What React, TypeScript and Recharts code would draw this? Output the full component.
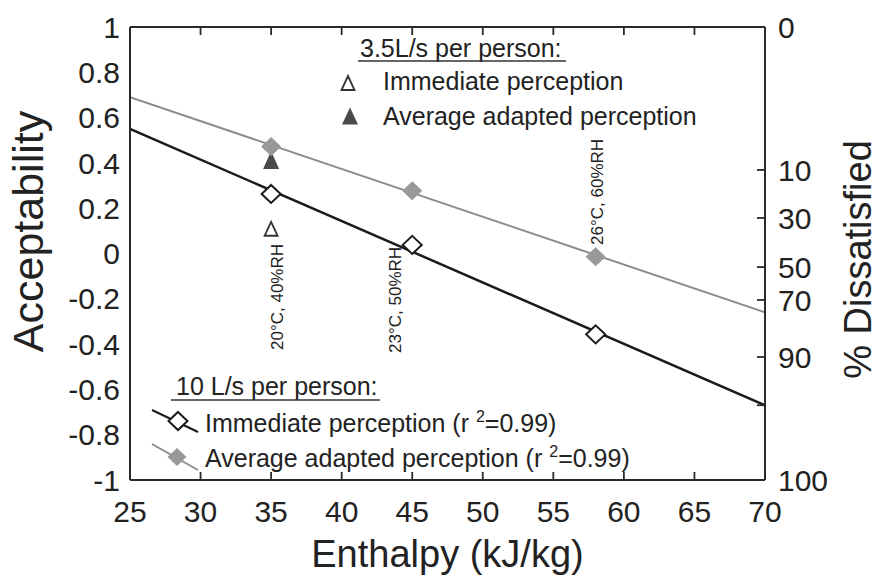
import React from 'react';
import { ComposedChart, Line, Scatter, XAxis, YAxis, Legend, Label } from 'recharts';

const FONT = '"Liberation Sans", Arial, Helvetica, sans-serif';

// axes
const enthalpyTicks = [25, 30, 35, 40, 45, 50, 55, 60, 65, 70];
const acceptTicks = [1, 0.8, 0.6, 0.4, 0.2, 0, -0.2, -0.4, -0.6, -0.8, -1];
// right axis: % dissatisfied labels and where they sit on the acceptability scale
const dissatLabels = ['0', '10', '30', '50', '70', '90', '', '100'];
const dissatPos = [1, 0.369, 0.157, -0.06, -0.205, -0.457, -0.67, -1];

// 10 L/s per person
const pointEnthalpy = [35, 45, 58];
const immediate10 = [0.263, 0.038, -0.357];
const adapted10 = [0.472, 0.277, -0.014];
// regression lines, end points
const fitEnthalpy = [25, 70];
const immediateFit = [0.55, -0.67];
const adaptedFit = [0.69, -0.26];

// 3.5 L/s per person
const enthalpy35 = [35];
const immediate35 = [0.118];
const adapted35 = [0.413];

// condition labels
const condLabels = ['20°C, 40%RH', '23°C, 50%RH', '26°C, 60%RH'];
const condX = [35.45, 43.85, 58.1];
const condY = [-0.192, -0.205, 0.272];

const toPts = (xs: number[], ys: number[]) => xs.map((x, i) => ({ x, y: ys[i] }));

const immFitData = toPts(fitEnthalpy, immediateFit);
const adpFitData = toPts(fitEnthalpy, adaptedFit);
const imm10Data = toPts(pointEnthalpy, immediate10);
const adp10Data = toPts(pointEnthalpy, adapted10);
const imm35Data = toPts(enthalpy35, immediate35);
const adp35Data = toPts(enthalpy35, adapted35);
const condData = condX.map((x, i) => ({ x, y: condY[i], label: condLabels[i] }));

const diamondPath = (cx: number, cy: number) =>
  `M${cx},${cy - 9} L${cx + 9.5},${cy} L${cx},${cy + 9} L${cx - 9.5},${cy} Z`;
const trianglePath = (cx: number, cy: number, w: number, h: number) =>
  `M${cx},${cy - h / 2} L${cx + w / 2},${cy + h / 2} L${cx - w / 2},${cy + h / 2} Z`;

const OpenDiamond = (p: any) => (
  <path d={diamondPath(p.cx, p.cy)} fill="#fff" stroke="#1a1a1a" strokeWidth={2} />
);
const GreyDiamond = (p: any) => <path d={diamondPath(p.cx, p.cy)} fill="#999" stroke="#999" strokeWidth={1} />;
const OpenTriangle = (p: any) => (
  <path d={trianglePath(p.cx, p.cy + 2, 13, 14)} fill="#fff" stroke="#333" strokeWidth={1.8} />
);
const FilledTriangle = (p: any) => <path d={trianglePath(p.cx, p.cy, 16, 18)} fill="#4a4a4a" />;
const CondText = (p: any) => (
  <text
    x={p.cx}
    y={p.cy}
    transform={`rotate(-90 ${p.cx} ${p.cy})`}
    textAnchor="middle"
    dominantBaseline="central"
    fontSize={17}
    fill="#222"
  >
    {p.payload.label}
  </text>
);

const renderLegend = () => (
  <svg width={878} height={577} style={{ position: 'absolute', left: 0, top: 0 }} fontFamily={FONT}>
    <g fontSize={25} fill="#222">
      <text x={360} y={57}>3.5L/s per person:</text>
      <line x1={358} x2={566} y1={61} y2={61} stroke="#333" strokeWidth={1.5} />
      <path d={trianglePath(348, 83, 13, 14)} fill="#fff" stroke="#333" strokeWidth={1.8} />
      <text x={383} y={90}>Immediate perception</text>
      <path d={trianglePath(350, 116, 16, 17)} fill="#4a4a4a" />
      <text x={383} y={125}>Average adapted perception</text>

      <text x={176} y={395}>10 L/s per person:</text>
      <line x1={171} x2={380} y1={400} y2={400} stroke="#333" strokeWidth={1.5} />
      <line x1={152} y1={410} x2={198} y2={432} stroke="#1a1a1a" strokeWidth={2} />
      <path d={diamondPath(178, 421)} fill="#fff" stroke="#1a1a1a" strokeWidth={2} />
      <text x={205} y={432}>
        Immediate perception (r <tspan dy={-10} fontSize={16}>2</tspan>
        <tspan dy={10}>=0.99)</tspan>
      </text>
      <line x1={152} y1={444} x2={198} y2={470} stroke="#8c8c8c" strokeWidth={2} />
      <path d={diamondPath(177, 457)} fill="#999" />
      <text x={205} y={467}>
        Average adapted perception (r <tspan dy={-10} fontSize={16}>2</tspan>
        <tspan dy={10}>=0.99)</tspan>
      </text>
    </g>
  </svg>
);

const tickStyle = { fontSize: 30, fill: '#222', fontFamily: FONT };
const frameLine = { stroke: '#2a2a2a', strokeWidth: 2 };
const tickMark = { stroke: '#2a2a2a', strokeWidth: 1.8 };

export default function App() {
  return (
    <div style={{ width: 878, height: 577, fontFamily: FONT, background: '#fff' }}>
      <style>{'body{margin:0}'}</style>
      <ComposedChart width={878} height={577} margin={{ top: 0, right: 0, bottom: 0, left: 0 }}>
        <XAxis
          xAxisId="bottom"
          dataKey="x"
          type="number"
          domain={[25, 70]}
          ticks={enthalpyTicks}
          interval={0}
          height={97}
          allowDataOverflow
          axisLine={frameLine}
          tickLine={tickMark}
          tickSize={-8}
          tickMargin={29}
          tick={tickStyle}
        >
          <Label
            content={(props: any) => {
              const vb = props.viewBox || { x: 130, y: 480, width: 635 };
              return (
                <text x={vb.x + vb.width / 2} y={vb.y + 87} textAnchor="middle" fontSize={38} fill="#222" fontFamily={FONT}>
                  Enthalpy (kJ/kg)
                </text>
              );
            }}
          />
        </XAxis>
        <XAxis
          xAxisId="top"
          orientation="top"
          dataKey="x"
          type="number"
          domain={[25, 70]}
          ticks={enthalpyTicks}
          interval={0}
          height={27}
          allowDataOverflow
          axisLine={frameLine}
          tickLine={tickMark}
          tickSize={-8}
          tickMargin={0}
          tick={tickStyle}
          tickFormatter={() => ''}
        />
        <YAxis
          yAxisId="left"
          dataKey="y"
          type="number"
          domain={[-1, 1]}
          ticks={acceptTicks}
          interval={0}
          width={130}
          allowDataOverflow
          axisLine={frameLine}
          tickLine={false}
          tickSize={0}
          tickMargin={10}
          tick={tickStyle}
        >
          <Label
            content={(props: any) => {
              const vb = props.viewBox || { x: 0, y: 27, width: 130, height: 453 };
              const cx = 43;
              const cy = vb.y + vb.height / 2 - 22;
              return (
                <text x={cx} y={cy} transform={`rotate(-90 ${cx} ${cy})`} textAnchor="middle" fontSize={43} fill="#222" fontFamily={FONT}>
                  Acceptability
                </text>
              );
            }}
          />
        </YAxis>
        <YAxis
          yAxisId="right"
          orientation="right"
          dataKey="y"
          type="number"
          domain={[-1, 1]}
          ticks={dissatPos}
          interval={0}
          width={113}
          allowDataOverflow
          axisLine={frameLine}
          tickLine={tickMark}
          tickSize={-8}
          tickMargin={21}
          tick={tickStyle}
          tickFormatter={(v: number) => dissatLabels[dissatPos.indexOf(v)] ?? ''}
        >
          <Label
            content={(props: any) => {
              const vb = props.viewBox || { x: 765, y: 27, width: 113, height: 453 };
              const cx = vb.x + 106;
              const cy = vb.y + vb.height / 2 + 6;
              return (
                <text x={cx} y={cy} transform={`rotate(-90 ${cx} ${cy})`} textAnchor="middle" fontSize={38} fill="#222" fontFamily={FONT}>
                  % Dissatisfied
                </text>
              );
            }}
          />
        </YAxis>

        <Scatter xAxisId="bottom" yAxisId="left" data={imm35Data} dataKey="y" shape={OpenTriangle} isAnimationActive={false} />
        <Scatter xAxisId="bottom" yAxisId="left" data={adp35Data} dataKey="y" shape={FilledTriangle} isAnimationActive={false} />
        <Line
          xAxisId="bottom"
          yAxisId="left"
          data={adpFitData}
          dataKey="y"
          type="linear"
          stroke="#8c8c8c"
          strokeWidth={2}
          dot={false}
          isAnimationActive={false}
        />
        <Scatter xAxisId="bottom" yAxisId="left" data={adp10Data} dataKey="y" shape={GreyDiamond} isAnimationActive={false} />
        <Line
          xAxisId="bottom"
          yAxisId="left"
          data={immFitData}
          dataKey="y"
          type="linear"
          stroke="#1a1a1a"
          strokeWidth={2.5}
          dot={false}
          isAnimationActive={false}
        />
        <Scatter xAxisId="bottom" yAxisId="left" data={imm10Data} dataKey="y" shape={OpenDiamond} isAnimationActive={false} />
        <Scatter xAxisId="bottom" yAxisId="left" data={condData} dataKey="y" shape={CondText} isAnimationActive={false} />

        <Legend
          content={renderLegend}
          layout="horizontal"
          verticalAlign="middle"
          align="center"
          wrapperStyle={{ left: 0, top: 0, width: 878, height: 577, pointerEvents: 'none' }}
        />
      </ComposedChart>
    </div>
  );
}
